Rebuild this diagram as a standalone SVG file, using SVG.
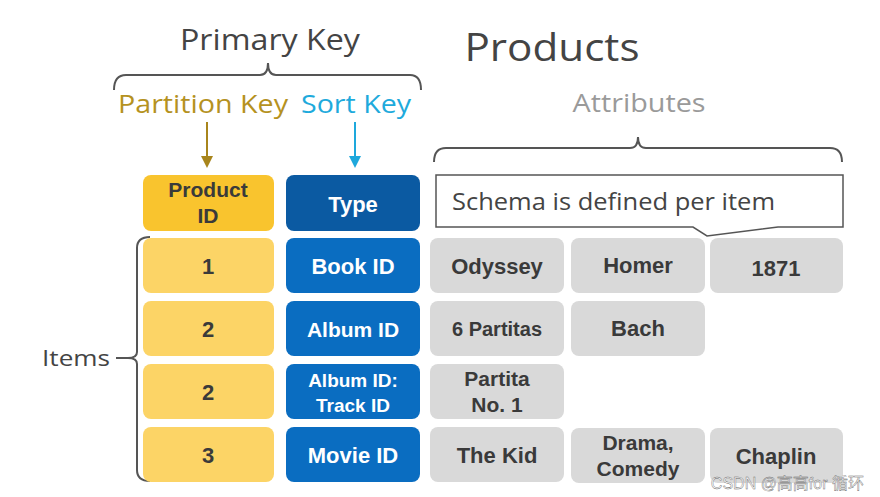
<svg xmlns="http://www.w3.org/2000/svg" width="880" height="497" viewBox="0 0 880 497">
<style>
.t{font-family:"Open Sans","Noto Sans",sans-serif}
.b{font-family:"Liberation Sans",Arial,sans-serif;font-weight:bold;text-anchor:middle}
.pk{fill:#F9C42E}.pr{fill:#FCD466}.ty{fill:#0B5AA2}.bl{fill:#0A6DC1}.gr{fill:#D9D9D9}
.dk{fill:#3A3A3A}.wh{fill:#FFFFFF}
.br{fill:none;stroke:#555;stroke-width:2}
</style>
<defs>
<marker id="ag" markerWidth="12" markerHeight="12" refX="10" refY="6" orient="auto" markerUnits="userSpaceOnUse"><path d="M0,0 L12,6 L0,12 Z" fill="#A8851C"/></marker>
<marker id="ab" markerWidth="12" markerHeight="12" refX="10" refY="6" orient="auto" markerUnits="userSpaceOnUse"><path d="M0,0 L12,6 L0,12 Z" fill="#1EA8DC"/></marker>
</defs>
<rect width="880" height="497" fill="#fff"/>
<g id="titles">
<text class="t" x="270" y="50" font-size="29" fill="#444" text-anchor="middle" textLength="180" lengthAdjust="spacingAndGlyphs">Primary Key</text>
<text class="t" x="552" y="61" font-size="39" fill="#444" text-anchor="middle" textLength="175" lengthAdjust="spacingAndGlyphs">Products</text>
<text class="t" x="203" y="113" font-size="25" fill="#B5921F" text-anchor="middle" textLength="170" lengthAdjust="spacingAndGlyphs">Partition Key</text>
<text class="t" x="356" y="113" font-size="25" fill="#1EAADC" text-anchor="middle" textLength="110" lengthAdjust="spacingAndGlyphs">Sort Key</text>
<text class="t" x="639" y="112" font-size="25" fill="#9A9A9A" text-anchor="middle" textLength="133" lengthAdjust="spacingAndGlyphs">Attributes</text>
<text class="t" x="76" y="366" font-size="22" fill="#444" text-anchor="middle" textLength="68" lengthAdjust="spacingAndGlyphs">Items</text>
</g>
<g id="connectors">
<path class="br" d="M114,90 Q114,75 126,75 L260,75 Q268,75 268,63 Q268,75 276,75 L410,75 Q421,75 421,90"/>
<path class="br" d="M434,162 Q434,148 446,148 L630,148 Q638,148 638,137 Q638,148 646,148 L830,148 Q842,148 842,162"/>
<path class="br" d="M150,237 Q137,237 137,248 L137,352 Q137,358 128,358 L116,358 M128,358 Q137,358 137,364 L137,470 Q137,481 150,481"/>
<line x1="207" y1="122" x2="207" y2="166" stroke="#A8851C" stroke-width="2" marker-end="url(#ag)"/>
<line x1="355" y1="122" x2="355" y2="166" stroke="#1EA8DC" stroke-width="2" marker-end="url(#ab)"/>
</g>
<g id="schema">
<path d="M436,175 L843,175 L843,227 L778,227 L707,236 L693,227 L436,227 Z" fill="#fff" stroke="#555" stroke-width="1.5"/>
<text class="t" x="452" y="210" font-size="24" fill="#444" textLength="323" lengthAdjust="spacingAndGlyphs">Schema is defined per item</text>
</g>
<g id="header-pk"><rect class="pk" x="143" y="175" width="131" height="56" rx="8"/><text class="b dk" x="208" y="197" font-size="21">Product</text><text class="b dk" x="208" y="223" font-size="21">ID</text></g>
<g id="header-type"><rect class="ty" x="286" y="175" width="134" height="56" rx="8"/><text class="b wh" x="353" y="212" font-size="22">Type</text></g>
<g id="r1-pk"><rect class="pr" x="143" y="238" width="131" height="55" rx="8"/><text class="b dk" x="208" y="274" font-size="22">1</text></g>
<g id="r1-type"><rect class="bl" x="286" y="238" width="134" height="55" rx="8"/><text class="b wh" x="353" y="274" font-size="22">Book ID</text></g>
<g id="r1-a1"><rect class="gr" x="430" y="238" width="134" height="55" rx="8"/><text class="b dk" x="497" y="274" font-size="22">Odyssey</text></g>
<g id="r1-a2"><rect class="gr" x="571" y="238" width="134" height="55" rx="8"/><text class="b dk" x="638" y="273" font-size="22">Homer</text></g>
<g id="r1-a3"><rect class="gr" x="710" y="238" width="133" height="55" rx="8"/><text class="b dk" x="776" y="276" font-size="22">1871</text></g>
<g id="r2-pk"><rect class="pr" x="143" y="301" width="131" height="55" rx="8"/><text class="b dk" x="208" y="337" font-size="22">2</text></g>
<g id="r2-type"><rect class="bl" x="286" y="301" width="134" height="55" rx="8"/><text class="b wh" x="353" y="337" font-size="21">Album  ID</text></g>
<g id="r2-a1"><rect class="gr" x="430" y="301" width="134" height="55" rx="8"/><text class="b dk" x="497" y="336" font-size="20">6 Partitas</text></g>
<g id="r2-a2"><rect class="gr" x="571" y="301" width="134" height="55" rx="8"/><text class="b dk" x="638" y="336" font-size="22">Bach</text></g>
<g id="r3-pk"><rect class="pr" x="143" y="364" width="131" height="55" rx="8"/><text class="b dk" x="208" y="400" font-size="22">2</text></g>
<g id="r3-type"><rect class="bl" x="286" y="364" width="134" height="55" rx="8"/><text class="b wh" x="353" y="387" font-size="19">Album  ID:</text><text class="b wh" x="353" y="412" font-size="19">Track ID</text></g>
<g id="r3-a1"><rect class="gr" x="430" y="364" width="134" height="55" rx="8"/><text class="b dk" x="497" y="386" font-size="21">Partita</text><text class="b dk" x="497" y="412" font-size="21">No. 1</text></g>
<g id="r4-pk"><rect class="pr" x="143" y="427" width="131" height="55" rx="8"/><text class="b dk" x="208" y="463" font-size="22">3</text></g>
<g id="r4-type"><rect class="bl" x="286" y="427" width="134" height="55" rx="8"/><text class="b wh" x="353" y="463" font-size="22">Movie ID</text></g>
<g id="r4-a1"><rect class="gr" x="430" y="427" width="134" height="55" rx="8"/><text class="b dk" x="497" y="463" font-size="22">The Kid</text></g>
<g id="r4-a2"><rect class="gr" x="571" y="428" width="134" height="55" rx="8"/><text class="b dk" x="638" y="450" font-size="21">Drama,</text><text class="b dk" x="638" y="476" font-size="21">Comedy</text></g>
<g id="r4-a3"><rect class="gr" x="710" y="428" width="133" height="55" rx="8"/><text class="b dk" x="776" y="464" font-size="22">Chaplin</text></g>
<text x="864" y="489" font-family="'Liberation Sans','Noto Sans CJK SC',sans-serif" font-size="16" fill="#fff" fill-opacity="0.85" stroke="#666" stroke-width="0.4" text-anchor="end">CSDN @高高for 循环</text>
</svg>
